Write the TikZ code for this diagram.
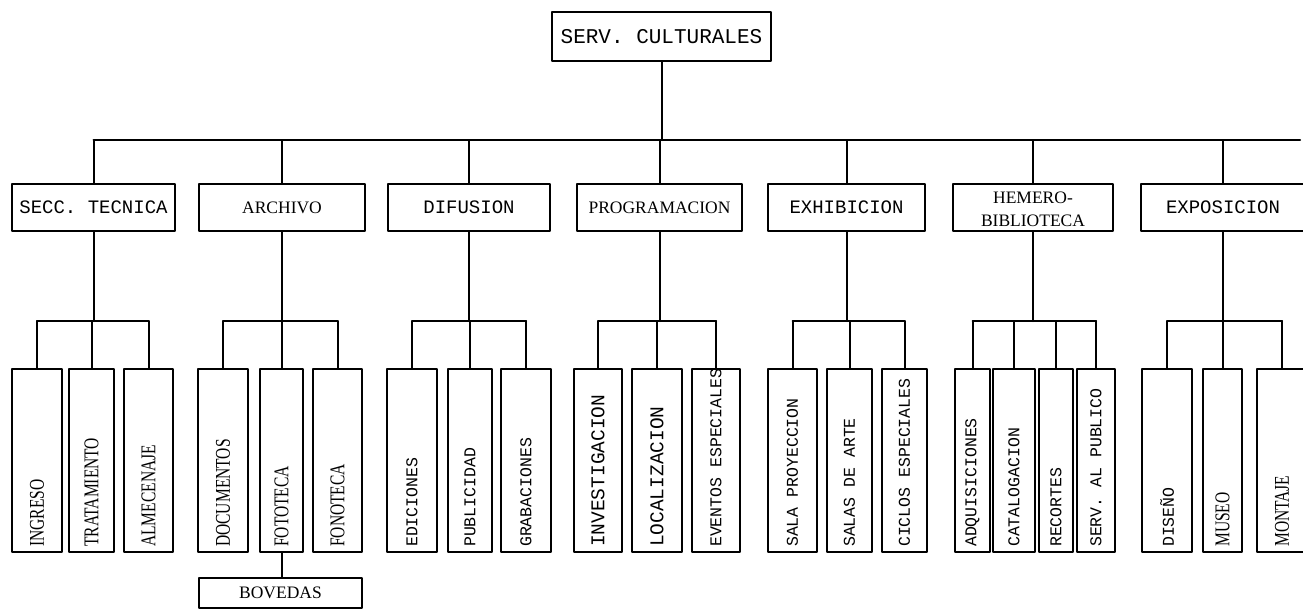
\documentclass[tikz,border=0pt]{standalone}
\usepackage{fontspec}
\setmainfont{Liberation Serif}
\setmonofont{Liberation Mono}
\newfontfamily\narrowserif[FakeStretch=0.74]{Liberation Serif}
\tikzset{
  box/.style={draw, line width=2pt, inner sep=0pt},
  topbox/.style={box, minimum width=219pt, minimum height=49pt, font=\ttfamily\fontsize{21}{21}\selectfont},
  dept/.style={box, minimum height=47pt},
  unit/.style={box, minimum height=183pt},
  tt1/.style={font=\ttfamily\fontsize{19}{19}\selectfont},
  rm1/.style={font=\fontsize{17.5}{23}\selectfont},
  vtt/.style={rotate=90, anchor=west, inner sep=0pt, font=\ttfamily\fontsize{16.5}{16.5}\selectfont},
  vttl/.style={rotate=90, anchor=west, inner sep=0pt, font=\ttfamily\fontsize{19.5}{19.5}\selectfont},
  vrm/.style={rotate=90, anchor=west, inner sep=0pt, font=\narrowserif\fontsize{21}{21}\selectfont},
  link/.style={line width=2pt}
}
\begin{document}
\begin{tikzpicture}[x=1pt, y=-1pt, line join=round, line cap=round]
	\useasboundingbox (0,0) rectangle (1303,614);
	\coordinate (bus) at (0,140);
	\coordinate (busend) at (1300,140);
	\coordinate (sub) at (0,321);
	% head
	\node[topbox] (serv) at (661.5,36.5) {SERV. CULTURALES};
	% departments
	\node[dept, tt1, minimum width=163pt] (secc) at (93.5,207.5) {SECC. TECNICA};
	\node[dept, rm1, minimum width=166pt] (archivo) at (282,207.5) {ARCHIVO};
	\node[dept, tt1, minimum width=162pt] (difusion) at (469,207.5) {DIFUSION};
	\node[dept, rm1, minimum width=165pt] (progr) at (659.5,207.5) {PROGRAMACION};
	\node[dept, tt1, minimum width=157pt] (exhib) at (846.5,207.5) {EXHIBICION};
	\node[dept, minimum width=160pt] (hemero) at (1033,207.5) {};
	\node[rm1, align=center, inner sep=0pt, yshift=-2pt] (hemero-t) at (hemero) {HEMERO-\\BIBLIOTECA};
	\node[dept, tt1, minimum width=164pt] (expo) at (1223,207.5) {EXPOSICION};
	\draw[link] (serv.south) -- (serv.south |- bus);
	\draw[link] (secc.north |- bus) -- (busend);
	\foreach \d in {secc,archivo,difusion,progr,exhib,hemero,expo}
		\draw[link] (\d.north) -- (\d.north |- bus);
	% sections
	\foreach \n/\x/\w/\s/\t in {
		ingreso/37/50pt/vrm/INGRESO, tratam/91.5/45pt/vrm/TRATAMIENTO, almac/148.5/49pt/vrm/ALMECENAJE,
		docum/223/50pt/vrm/DOCUMENTOS, fototeca/281.5/43pt/vrm/FOTOTECA, fonoteca/337.5/49pt/vrm/FONOTECA,
		edic/412/50pt/vtt/EDICIONES, publ/470/44pt/vtt/PUBLICIDAD, grab/526/50pt/vtt/GRABACIONES,
		invest/598/48pt/vttl/INVESTIGACION, local/657/50pt/vttl/LOCALIZACION, eventos/716/48pt/vtt/EVENTOS ESPECIALES,
		sala/792.5/49pt/vtt/SALA PROYECCION, salas/849.5/45pt/vtt/SALAS DE ARTE, ciclos/904.5/45pt/vtt/CICLOS ESPECIALES,
		adqu/972.5/35pt/vtt/ADQUISICIONES, catal/1014/42pt/vtt/CATALOGACION, recort/1056/34pt/vtt/RECORTES, publico/1096/38pt/vtt/SERV. AL PUBLICO,
		diseno/1167/50pt/vtt/DISEÑO, museo/1222.5/39pt/vrm/MUSEO, montaje/1282/50pt/vrm/MONTAJE}{
		\node[unit, minimum width=\w] (\n) at (\x,460.5) {};
		\node[\s] (\n-t) at ([yshift=6pt]\n.south) {\t};
		\draw[link] (\n.north) -- (\n.north |- sub);
	}
	\foreach \p/\a/\b in {secc/ingreso/almac, archivo/docum/fonoteca, difusion/edic/grab, progr/invest/eventos,
		exhib/sala/ciclos, hemero/adqu/publico, expo/diseno/montaje}{
		\draw[link] (\p.south) -- (\p.south |- sub);
		\draw[link] (\a.north |- sub) -- (\b.north |- sub);
	}
	\node[box, rm1, minimum width=163pt, minimum height=30pt] (bovedas) at (280.5,593) {BOVEDAS};
	\draw[link] (fototeca.south) -- (fototeca.south |- bovedas.north);
\end{tikzpicture}
\end{document}
